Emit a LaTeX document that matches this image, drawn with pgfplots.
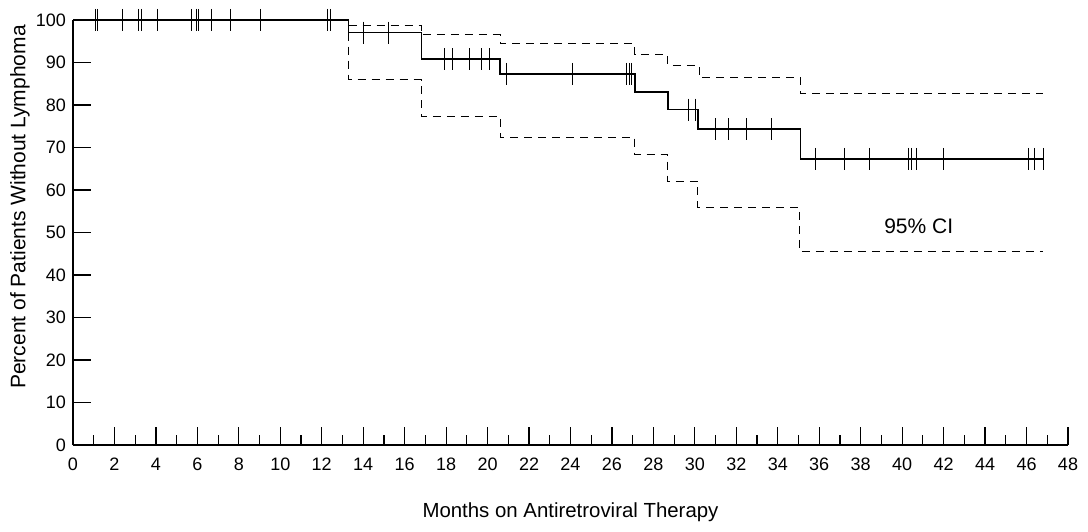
\documentclass[border=0pt]{standalone}
\usepackage{fontspec}
\setmainfont{Liberation Sans}
\usepackage{pgfplots}
\pgfplotsset{compat=1.18}
\begin{document}
\begin{tikzpicture}
\path[use as bounding box] (-36.5pt,-43pt) rectangle (507.5pt,222.5pt);
\begin{axis}[
  scale only axis, width=497.5pt, height=212.5pt,
  at={(0,0)}, anchor=south west,
  xmin=0, xmax=48, ymin=0, ymax=100,
  axis lines=left, axis line style={-, line width=0.6pt},
  clip=false,
  xtick={0,2,...,48}, ytick={0,10,...,100},
  minor x tick num=1,
  tick align=inside,
  major tick length=9pt, minor tick length=5pt,
  every tick/.style={line width=0.6pt, black},
  /pgf/number format/assume math mode=true,
  tick label style={font=\fontsize{9}{10}\selectfont},
  xticklabel style={yshift=-3pt},
  xlabel={Months on Antiretroviral Therapy},
  ylabel={Percent of Patients Without Lymphoma},
  every axis x label/.style={at={(axis description cs:0.5,0)}, anchor=center, yshift=-33.5pt, font=\fontsize{10.2}{12}\selectfont},
  every axis y label/.style={at={(axis description cs:0,0.56)}, anchor=center, rotate=90, yshift=26.5pt, font=\fontsize{10.5}{12}\selectfont},
]
% Kaplan-Meier estimate
\addplot[const plot, black, line width=0.75pt] coordinates {
 (0,100) (13.3,97) (16.8,90.8) (20.6,87.3) (27.1,83.0) (28.7,78.9) (30.15,74.3) (35.1,67.3) (46.8,67.3)};
% upper 95% CI
\addplot[const plot, black, line width=0.5pt, dash pattern=on 4pt off 3pt] coordinates {
 (13.3,98.8) (16.8,96.5) (20.6,94.5) (27.1,91.9) (28.7,89.4) (30.2,86.5) (35.1,82.7) (46.8,82.7)};
% lower 95% CI
\addplot[const plot, black, line width=0.5pt, dash pattern=on 4pt off 3pt] coordinates {
 (13.3,97) (13.3,85.9) (16.8,77.3) (20.6,72.4) (27.1,68.3) (28.7,62) (30.15,56) (35.05,45.5) (46.8,45.5)};
% censored observations
\addplot[only marks, mark=|, mark size=5.5pt, mark options={line width=0.5pt, black}] coordinates {
 (1.1,100) (1.2,100) (2.4,100) (3.18,100) (3.3,100) (4.1,100) (5.7,100) (5.95,100) (6.05,100) (6.7,100) (7.6,100) (9.05,100) (12.3,100) (12.4,100)
 (14.0,97) (15.2,97)
 (17.9,90.8) (18.3,90.8) (19.15,90.8) (19.7,90.8) (20.07,90.8)
 (20.9,87.3) (24.1,87.3) (26.7,87.3) (26.85,87.3) (26.95,87.3)
 (29.7,78.9) (30.05,78.9)
 (31.0,74.3) (31.6,74.3) (32.5,74.3) (33.7,74.3)
 (35.8,67.3) (37.2,67.3) (38.4,67.3) (40.3,67.3) (40.45,67.3) (40.7,67.3) (42.0,67.3) (46.1,67.3) (46.4,67.3) (46.8,67.3)};
\node[font=\fontsize{10.5}{12}\selectfont] at (axis cs:40.8,51.5) {95\% CI};
\end{axis}
\end{tikzpicture}
\end{document}
